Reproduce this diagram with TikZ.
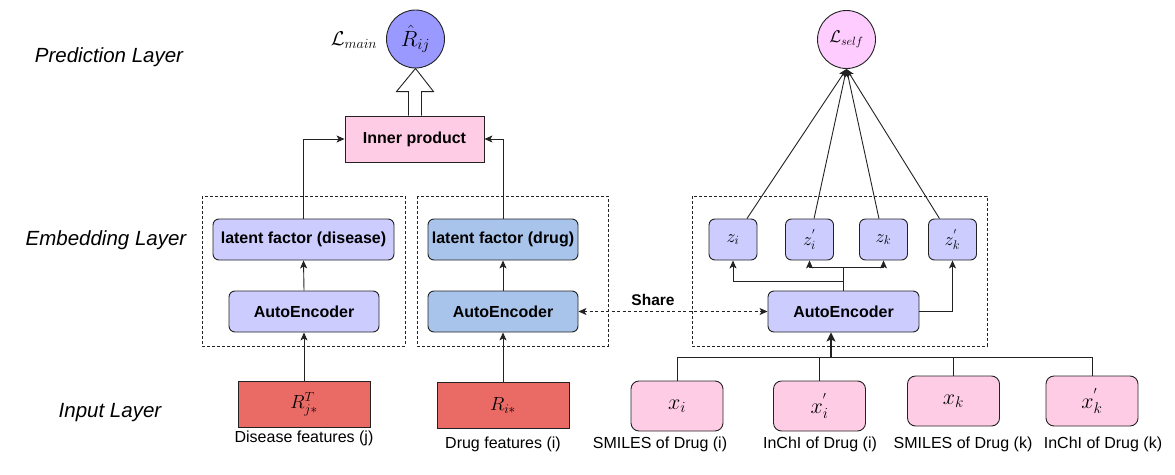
\RequirePackage{fix-cm}
\documentclass[tikz,border=0pt]{standalone}
\usepackage{fontspec}
\newfontfamily\arial{Liberation Sans}
\usetikzlibrary{arrows.meta,calc}
\definecolor{cBlueV}{HTML}{9999FF}
\definecolor{cPinkC}{HTML}{FFCCFF}
\definecolor{cPink}{HTML}{FFCCE6}
\definecolor{cLav}{HTML}{CCCCFF}
\definecolor{cSky}{HTML}{A9C4EB}
\definecolor{cRed}{HTML}{EA6B66}
\definecolor{cLine}{HTML}{222222}
\begin{document}
\begin{tikzpicture}[x=1pt,y=-1pt,
  lay/.style={font=\arial\itshape\fontsize{20.5}{24}\selectfont},
  lbl/.style={font=\arial\fontsize{16}{19}\selectfont, inner sep=0pt},
  bx/.style={draw=cLine, line width=0.9pt, inner sep=0pt, font=\arial\bfseries\fontsize{16}{19}\selectfont},
  rbx/.style={bx, rounded corners=6pt},
  mth/.style={font=\fontsize{19}{22}\selectfont},
  arr/.style={-{Stealth[length=8pt,width=7pt,inset=2pt]}, draw=cLine, line width=0.9pt},
  dbox/.style={draw=cLine, dashed, line width=0.8pt, dash pattern=on 3pt off 2pt}
]
\useasboundingbox (0,0) rectangle (1175,474);

% layer labels
\node[lay] (pl) at (109,57) {Prediction Layer};
\node[lay] (el) at (106,240) {Embedding Layer};
\node[lay] (il) at (110,413) {Input Layer};

% dashed groups
\draw[dbox] (202,196) rectangle (405,346);
\draw[dbox] (417,196) rectangle (608,346);
\draw[dbox] (692,196) rectangle (987,346);

% prediction
\node[bx, circle, fill=cBlueV, minimum size=58pt, font=\fontsize{22}{25}\selectfont] (rhat) at (415.5,39) {$\hat{R}_{ij}$};
\node[font=\fontsize{20}{23}\selectfont, inner sep=0pt] (lmain) at (354,40) {$\mathcal{L}_{main}$};
\node[bx, fill=cPink, minimum width=139pt, minimum height=46pt] (ip) at (414.5,139) {Inner product};
\node[bx, circle, fill=cPinkC, minimum size=58pt, font=\fontsize{17}{20}\selectfont] (lself) at (846.5,39.5) {$\mathcal{L}_{self}$};

% left branch
\node[rbx, fill=cLav, minimum width=181pt, minimum height=41pt] (ld) at (303.5,239.5) {latent factor (disease)};
\node[rbx, fill=cLav, minimum width=150pt, minimum height=41pt] (ae1) at (304,311.5) {AutoEncoder};
\node[bx, fill=cRed, minimum width=132pt, minimum height=46pt, mth] (rt) at (304,404) {$R^{T}_{j*}$};
\node[lbl] (dfl) at (304,438) {Disease features (j)};

% middle branch
\node[rbx, fill=cSky, minimum width=150pt, minimum height=41pt] (lg) at (503,239.5) {latent factor (drug)};
\node[rbx, fill=cSky, minimum width=150pt, minimum height=41pt] (ae2) at (503,311.5) {AutoEncoder};
\node[bx, fill=cRed, minimum width=132pt, minimum height=46pt, mth] (ri) at (503,405.5) {$R_{i*}$};
\node[lbl] (dgl) at (503,444) {Drug features (i)};

% right branch
\node[rbx, fill=cLav, minimum width=151pt, minimum height=41pt] (ae3) at (843.5,311.5) {AutoEncoder};
\node[rbx, fill=cLav, minimum width=48pt, minimum height=41pt, font=\fontsize{18}{21}\selectfont] (z1) at (733,239.5) {$z_{i}$};
\node[rbx, fill=cLav, minimum width=48pt, minimum height=41pt, font=\fontsize{18}{21}\selectfont] (z2) at (809.5,239.5) {$z^{'}_{i}$};
\node[rbx, fill=cLav, minimum width=48pt, minimum height=41pt, font=\fontsize{18}{21}\selectfont] (z3) at (883.5,239.5) {$z_{k}$};
\node[rbx, fill=cLav, minimum width=48pt, minimum height=41pt, font=\fontsize{18}{21}\selectfont] (z4) at (952.5,239.5) {$z^{'}_{k}$};

\node[bx, rounded corners=8pt, fill=cPink, minimum width=92pt, minimum height=50pt, font=\fontsize{22}{25}\selectfont] (x1) at (677,406) {$x_{i}$};
\node[bx, rounded corners=8pt, fill=cPink, minimum width=92pt, minimum height=50pt, font=\fontsize{22}{25}\selectfont] (x2) at (819.5,406) {$x^{'}_{i}$};
\node[bx, rounded corners=8pt, fill=cPink, minimum width=92pt, minimum height=50pt, font=\fontsize{22}{25}\selectfont] (x3) at (953.5,401) {$x_{k}$};
\node[bx, rounded corners=8pt, fill=cPink, minimum width=92pt, minimum height=50pt, font=\fontsize{22}{25}\selectfont] (x4) at (1092,401) {$x^{'}_{k}$};
\node[lbl] (l1) at (660,444) {SMILES of Drug (i)};
\node[lbl] (l2) at (820,444) {InChI of Drug (i)};
\node[lbl] (l3) at (963,444) {SMILES of Drug (k)};
\node[lbl] (l4) at (1103,444) {InChI of Drug (k)};

% hollow arrow
\draw[draw=cLine, line width=0.9pt, fill=white]
  ($(ip.north)+(-6,0)$) -- ($(ip.north)+(-6,-24)$) -- ($(ip.north)+(-18,-24)$)
  -- (rhat.south) -- ($(ip.north)+(19,-24)$) -- ($(ip.north)+(7,-24)$) -- ($(ip.north)+(7,0)$);

% left / middle connectors
\draw[arr] (ld.north) |- (ip.west);
\draw[arr] (lg.north) |- (ip.east);
\draw[arr] (ae1.north) -- (ld.south);
\draw[arr] (rt.north) -- (ae1.south);
\draw[arr] (ae2.north) -- (lg.south);
\draw[arr] (ri.north) -- (ae2.south);

% share
\draw[arr, {Stealth[length=8pt,width=7pt,inset=2pt]}-{Stealth[length=8pt,width=7pt,inset=2pt]}, dashed, dash pattern=on 3pt off 2.5pt] (ae2.east) -- (ae3.west);
\node[font=\arial\bfseries\fontsize{15.5}{18}\selectfont, inner sep=0pt] (share) at (653,300) {Share};

% autoencoder to z
\draw[arr] (ae3.north) -- ++(0,-9.5) -| (z1.south);
\draw[arr] (ae3.north) -- ++(0,-23.5) -| (z2.south);
\draw[arr] (ae3.north) -- ++(0,-23.5) -| (z3.south);
\draw[arr] (ae3.east) -| (z4.south);

% z to L_self
\draw[arr] (z1) -- (lself.south);
\draw[arr] (z2) -- (lself.south);
\draw[arr] (z3) -- (lself.south);
\draw[arr] (z4) -- (lself.south);

% inputs to autoencoder
\coordinate (bus) at (831,357);
\draw[draw=cLine, line width=0.9pt] (x1.north) |- (bus);
\draw[draw=cLine, line width=0.9pt] (x2.north) |- (bus);
\draw[draw=cLine, line width=0.9pt] (x3.north) |- (bus);
\draw[draw=cLine, line width=0.9pt] (x4.north) |- (bus);
\draw[-{Stealth[length=9pt,width=9pt,inset=2pt]}, draw=cLine, line width=2.6pt] (bus) -- (ae3.south -| bus);
\end{tikzpicture}
\end{document}
